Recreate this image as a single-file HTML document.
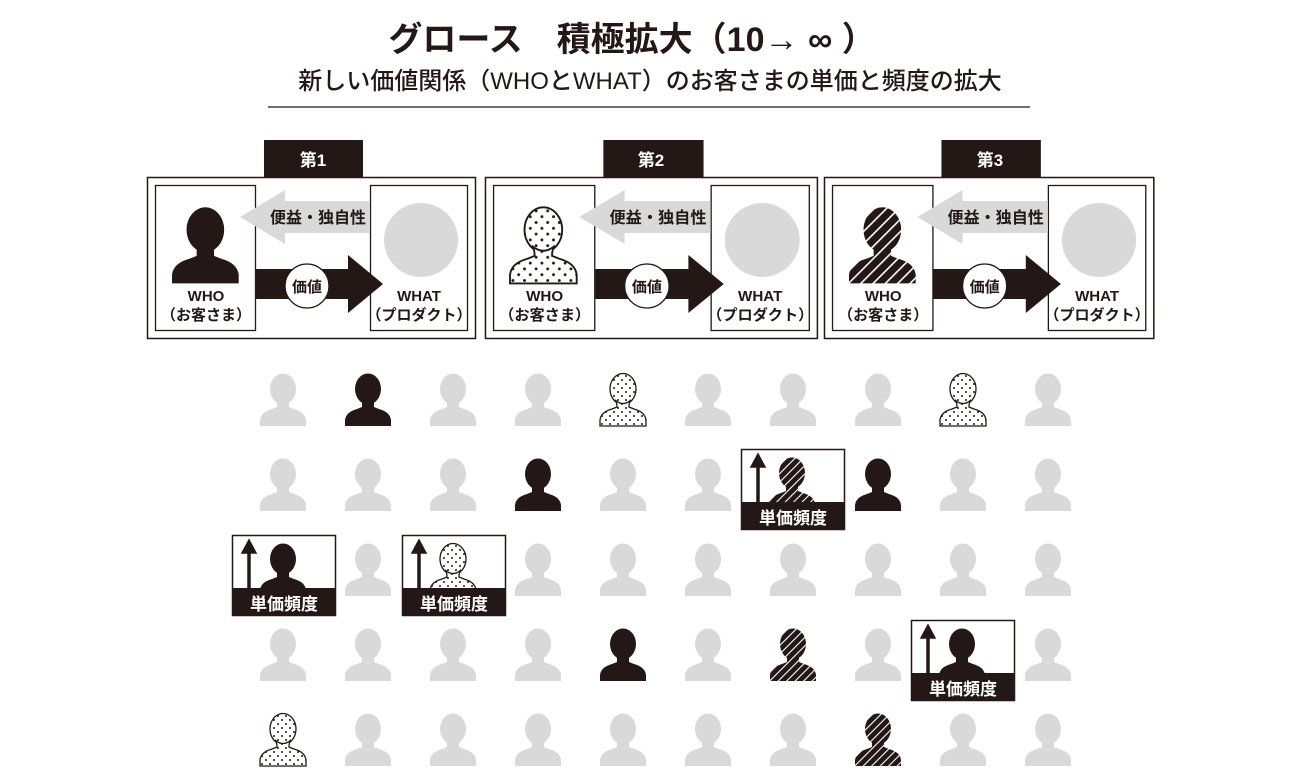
<!DOCTYPE html>
<html><head><meta charset="utf-8"><style>
body{margin:0;background:#fff;}
svg{display:block;font-family:"Liberation Sans","Noto Sans CJK JP",sans-serif;}
</style></head><body>
<svg width="1300" height="780" viewBox="0 0 1300 780" xmlns="http://www.w3.org/2000/svg">
<defs>
<pattern id="dots" width="8" height="8" patternUnits="userSpaceOnUse">
<rect width="8" height="8" fill="#fff"/><circle cx="2" cy="2" r="1" fill="#231815"/><circle cx="6" cy="6" r="1" fill="#231815"/>
</pattern>
<pattern id="hatch" width="6" height="6" patternUnits="userSpaceOnUse" patternTransform="rotate(45)">
<rect width="6" height="6" fill="#231815"/><rect x="0" y="0" width="1.1" height="6" fill="#fff"/>
</pattern>
<g id="p">
<ellipse cx="23" cy="15" rx="13" ry="15.5"/>
<rect x="17" y="24" width="12" height="12"/>
<path d="M0,52 L0,46 Q1,38 12,35 L17,33 Q23,31 29,33 L34,35 Q45,38 46,46 L46,52Z"/>
</g>
<g id="pd" fill="url(#dots)" stroke="#231815" stroke-width="1.3">
<ellipse cx="23" cy="15" rx="13" ry="15.5"/>
<path d="M0,52 L0,46 Q1,38 12,35 L17,33 Q17,28 15,26 Q23,33 31,26 Q29,28 29,33 L34,35 Q45,38 46,46 L46,52Z"/>
</g>
<g id="ph" fill="url(#hatch)"><use href="#p"/></g>
<g id="pg" fill="#d9d9d9"><use href="#p"/></g>
<g id="pb" fill="#231815"><use href="#p"/></g>
<g id="panel">
<rect x="264" y="140" width="99" height="37" fill="#231815"/>
<rect x="147.5" y="177.5" width="328" height="161" fill="#fff" stroke="#231815" stroke-width="1.5"/>
<rect x="155.5" y="185.5" width="100" height="145" fill="#fff" stroke="#231815" stroke-width="1.3"/>
<rect x="370.5" y="185.5" width="97" height="145" fill="#fff" stroke="#231815" stroke-width="1.3"/>
<path d="M370,201 L285,201 L285,190 L240,217 L285,244 L285,233 L370,233Z" fill="#d9d9d9"/>
<path d="M256,269 L348,269 L348,255 L383,284 L348,313 L348,299 L256,299Z" fill="#231815"/>
<circle cx="421" cy="240" r="37" fill="#d9d9d9"/>
<circle cx="307" cy="286" r="22" fill="#fff" stroke="#231815" stroke-width="1.3"/>
<text x="307" y="292" font-size="15" font-weight="bold" text-anchor="middle" fill="#231815">価値</text>
<text x="318" y="223" font-size="16" font-weight="bold" text-anchor="middle" fill="#231815">便益・独自性</text>
<text x="206" y="301" font-size="15" font-weight="bold" text-anchor="middle" fill="#231815">WHO</text>
<text x="206" y="320" font-size="15" font-weight="bold" text-anchor="middle" fill="#231815">（お客さま）</text>
<text x="419" y="301" font-size="15" font-weight="bold" text-anchor="middle" fill="#231815">WHAT</text>
<text x="419" y="320" font-size="15" font-weight="bold" text-anchor="middle" fill="#231815">（プロダクト）</text>
</g>
<g id="boxfr">
<rect x="232.5" y="535.5" width="103" height="80" fill="#fff" stroke="#231815" stroke-width="1.5"/>
</g>
<g id="boxbot">
<rect x="232" y="588" width="104" height="28" fill="#231815"/>
<path d="M248,588 L248,553 L242,553 L249,540 L256,553 L250,553 L250,588Z" fill="#231815" stroke="#231815" stroke-width="1.5"/>
<text x="284" y="610" font-size="17" font-weight="bold" fill="#fff" text-anchor="middle">単価頻度</text>
</g>
</defs>

<text x="632" y="51" font-size="34" font-weight="bold" text-anchor="middle" fill="#231815">グロース　積極拡大（10→ ∞ ）</text>
<text x="650" y="89" font-size="24" text-anchor="middle" fill="#231815" style="font-weight:500">新しい価値関係（WHOとWHAT）のお客さまの単価と頻度の拡大</text>
<line x1="268" y1="107" x2="1030" y2="107" stroke="#231815" stroke-width="1.2"/>

<use href="#panel"/>
<g transform="translate(336.2,0) scale(1.012,1)"><use href="#panel"/></g>
<g transform="translate(676.4,0) scale(1.004,1)"><use href="#panel"/></g>
<g font-size="17" font-weight="bold" fill="#fff" text-anchor="middle">
<text x="313" y="166">第1</text><text x="651" y="166">第2</text><text x="990" y="166">第3</text>
</g>
<g transform="translate(172,208) scale(1.45)"><use href="#pb"/></g>
<g transform="translate(510,208) scale(1.45)"><use href="#pd"/></g>
<g transform="translate(849,208) scale(1.45)"><use href="#ph"/></g>

<use href="#pg" x="260" y="374"/><use href="#pb" x="345" y="374"/><use href="#pg" x="430" y="374"/><use href="#pg" x="515" y="374"/><use href="#pd" x="600" y="374"/><use href="#pg" x="685" y="374"/><use href="#pg" x="770" y="374"/><use href="#pg" x="855" y="374"/><use href="#pd" x="940" y="374"/><use href="#pg" x="1025" y="374"/>

<use href="#pg" x="260" y="459"/><use href="#pg" x="345" y="459"/><use href="#pg" x="430" y="459"/><use href="#pb" x="515" y="459"/><use href="#pg" x="600" y="459"/><use href="#pg" x="685" y="459"/><use href="#pb" x="855" y="459"/><use href="#pg" x="940" y="459"/><use href="#pg" x="1025" y="459"/>

<use href="#pg" x="345" y="544"/><use href="#pg" x="515" y="544"/><use href="#pg" x="600" y="544"/><use href="#pg" x="685" y="544"/><use href="#pg" x="770" y="544"/><use href="#pg" x="855" y="544"/><use href="#pg" x="940" y="544"/><use href="#pg" x="1025" y="544"/>

<use href="#pg" x="260" y="629"/><use href="#pg" x="345" y="629"/><use href="#pg" x="430" y="629"/><use href="#pg" x="515" y="629"/><use href="#pb" x="600" y="629"/><use href="#pg" x="685" y="629"/><use href="#ph" x="770" y="629"/><use href="#pg" x="855" y="629"/><use href="#pg" x="1025" y="629"/>

<use href="#pd" x="260" y="714"/><use href="#pg" x="345" y="714"/><use href="#pg" x="430" y="714"/><use href="#pg" x="515" y="714"/><use href="#pg" x="600" y="714"/><use href="#pg" x="685" y="714"/><use href="#pg" x="770" y="714"/><use href="#ph" x="855" y="714"/><use href="#pg" x="940" y="714"/><use href="#pg" x="1025" y="714"/>

<use href="#boxfr"/><use href="#pb" x="260" y="544"/><use href="#boxbot"/>
<g transform="translate(170,0)"><use href="#boxfr"/><use href="#pd" x="260" y="544"/><use href="#boxbot"/></g>
<g transform="translate(509,-86)"><use href="#boxfr"/><use href="#ph" x="260" y="544"/><use href="#boxbot"/></g>
<g transform="translate(679,85)"><use href="#boxfr"/><use href="#pb" x="260" y="544"/><use href="#boxbot"/></g>
</svg>
</body></html>
